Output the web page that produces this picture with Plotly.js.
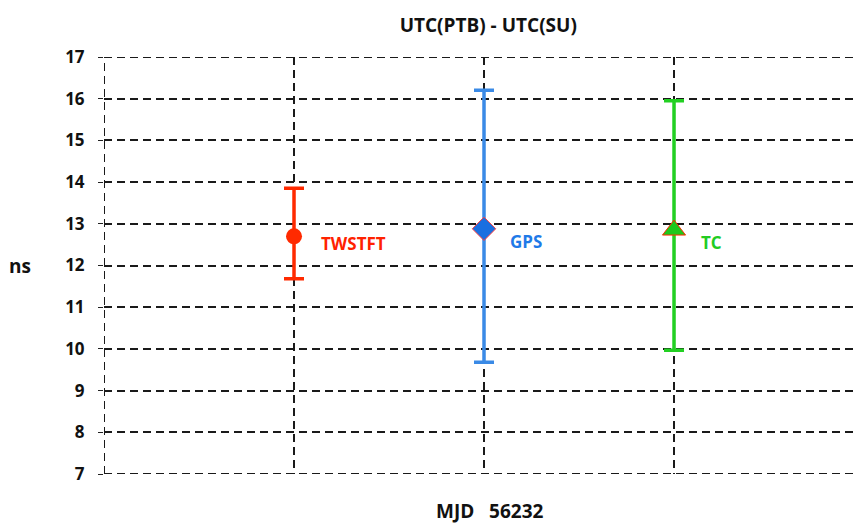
<!DOCTYPE html>
<html><head><meta charset="utf-8">
<script src="https://cdn.plot.ly/plotly-3.0.1.min.js"></script>
<style>html,body{margin:0;padding:0;overflow:hidden;background:#fff}</style>
</head><body>
<div id="chart" style="width:853px;height:524px"></div>
<script>
const methods = ['TWSTFT', 'GPS', 'TC'];
const positions = [1, 2, 3];
const values = [12.7, 12.88, 12.85];
const errPlus = [1.15, 3.32, 3.1];
const errMinus = [1.02, 3.2, 2.88];
const yTicks = [7, 8, 9, 10, 11, 12, 13, 14, 15, 16, 17];
const titleText = 'UTC(PTB) - UTC(SU)';
const xLabel = 'MJD   56232';
const yLabel = 'ns';

const lineColors = ['#FF2A00', '#3A8AE6', '#22D022'];
const markerColors = ['#FF2A00', '#1A6FE0', '#1CC81C'];
const markerSymbols = ['circle', 'diamond', 'triangle-up'];
const markerSizes = [16, 18, 20];
const markerLines = [{color:'#FF2A00', width:0}, {color:'#FF4040', width:1}, {color:'#FF2A00', width:1}];
const labelColors = ['#FF2200', '#1F7AE8', '#22CC22'];
const labelShift = [{x:25, y:-7}, {x:24, y:-13}, {x:25, y:-12}];

const font = 'Open Sans, Liberation Sans, sans-serif';
const traces = methods.map((m, i) => ({
  type: 'scatter', mode: 'markers', name: m,
  x: [positions[i]], y: [values[i]],
  marker: {symbol: markerSymbols[i], size: markerSizes[i], color: markerColors[i], line: markerLines[i]},
  error_y: {type: 'data', symmetric: false, array: [errPlus[i]], arrayminus: [errMinus[i]],
            color: lineColors[i], thickness: 3.5, width: 10},
  showlegend: false, hoverinfo: 'skip'
}));

const annotations = methods.map((m, i) => ({
  x: positions[i], y: values[i], xref: 'x', yref: 'y', text: '<b>' + m + '</b>',
  showarrow: false, xanchor: 'left', yanchor: 'middle', xshift: labelShift[i].x, yshift: labelShift[i].y,
  font: {family: font, size: 17, color: labelColors[i]}
}));
annotations.push({x: -0.112, y: 0.5, xref: 'paper', yref: 'paper', xanchor: 'center', yanchor: 'middle',
  text: '<b>' + yLabel + '</b>', showarrow: false, font: {family: font, size: 19, color: '#111'}});
annotations.push({x: 0.515, y: 0, xref: 'paper', yref: 'paper', yshift: -37, xanchor: 'center', yanchor: 'middle',
  text: '<b>' + xLabel + '</b>', showarrow: false, font: {family: font, size: 19, color: '#111'}});

const gridLine = {color: '#1a1a1a', width: 2, dash: '8px,5px'};
const shapes = [
  {type: 'line', xref: 'x', yref: 'paper', x0: 0, x1: 0, y0: 0, y1: 1, line: gridLine},
  {type: 'line', xref: 'paper', yref: 'y', x0: 0, x1: 1, y0: yTicks[0], y1: yTicks[0], line: gridLine},
  {type: 'line', xref: 'paper', yref: 'y', x0: 0, x1: 1, y0: yTicks[yTicks.length-1], y1: yTicks[yTicks.length-1], line: gridLine}
];

const grid = {showgrid: true, gridcolor: '#1a1a1a', gridwidth: 2, griddash: '8px,5px',
              zeroline: false, showline: false, fixedrange: true};
const layout = {
  width: 853, height: 524,
  margin: {l: 104, r: 0, t: 57, b: 50},
  paper_bgcolor: '#fff', plot_bgcolor: '#fff',
  title: {text: '<b>' + titleText + '</b>', x: 0.513, xref: 'paper', y: 0.952, yref: 'container',
          xanchor: 'center', yanchor: 'middle', font: {family: font, size: 19, color: '#111'}},
  xaxis: Object.assign({range: [0, 3.942], tick0: 0, dtick: 1, showticklabels: false, ticks: ''}, grid),
  yaxis: Object.assign({range: [7, 17], tickvals: yTicks, ticktext: yTicks.map(v => '<b>' + v + '</b>'),
          ticks: 'outside', ticklen: 5, tickcolor: '#222', ticklabelstandoff: 10,
          tickfont: {family: font, size: 17, color: '#111'}}, grid),
  shapes: shapes,
  annotations: annotations
};
Plotly.newPlot('chart', traces, layout, {displayModeBar: false, staticPlot: true});
</script>
</body></html>
